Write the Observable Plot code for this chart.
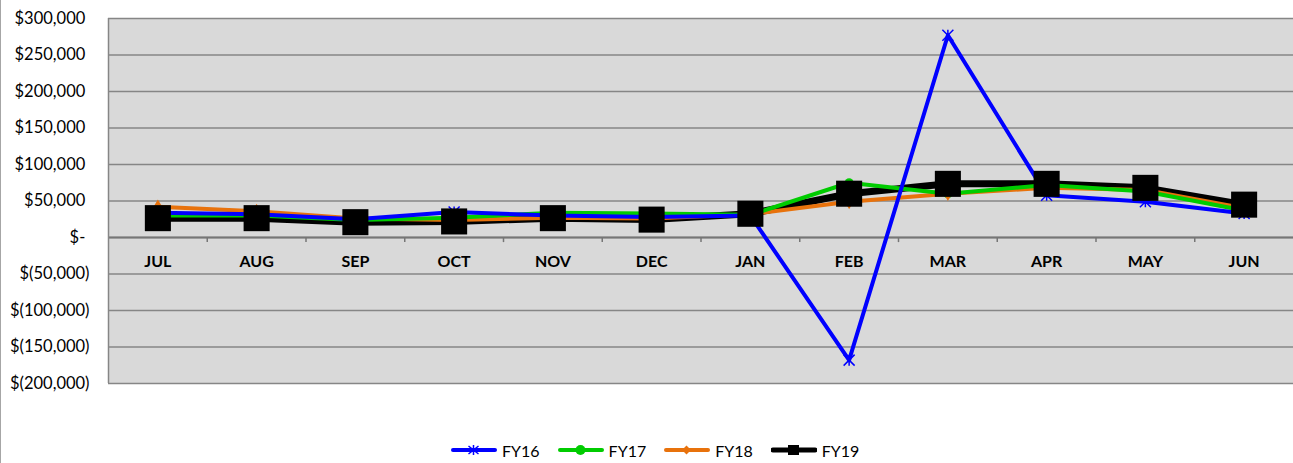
<!DOCTYPE html>
<html>
<head>
<meta charset="utf-8">
<script src="https://cdn.jsdelivr.net/npm/d3@7"></script>
<script src="https://cdn.jsdelivr.net/npm/@observablehq/plot@0.6"></script>
<style>
  html, body { margin: 0; padding: 0; background: #fff; }
  body { width: 1293px; height: 463px; overflow: hidden; position: relative; font-family: Lato, "Open Sans", sans-serif; }
  #border { position: absolute; left: 0; top: 0; width: 1px; height: 463px; background: #a6a6a6; }
  #chart { position: absolute; left: 0; top: 0; }
  #legend { position: absolute; left: 451px; top: 440px; height: 20px; display: flex; align-items: center; font-size: 16px; color: #000; }
  .item { display: flex; align-items: center; margin-right: 18px; }
  .item svg { margin-right: 5px; }
</style>
</head>
<body>
<div id="border"></div>
<div id="chart"></div>
<div id="legend"></div>
<script>
// ---- data ----
const months = ["JUL", "AUG", "SEP", "OCT", "NOV", "DEC", "JAN", "FEB", "MAR", "APR", "MAY", "JUN"];
const fy16 = [34000, 32000, 25000, 35000, 30000, 28000, 30000, -168000, 277000, 58000, 49000, 33000];
const fy17 = [30000, 30000, 24000, 27000, 34000, 33000, 31000, 75000, 60000, 72000, 63000, 37000];
const fy18 = [42000, 36000, 26000, 24000, 27000, 26000, 32000, 49000, 60000, 68000, 65000, 40000];
const fy19 = [26500, 26500, 21000, 22000, 26500, 24500, 32500, 60000, 73500, 73500, 68000, 45000];
const seriesNames = ["FY16", "FY17", "FY18", "FY19"];
const yTicks = [-200000, -150000, -100000, -50000, 0, 50000, 100000, 150000, 200000, 250000, 300000];

// ---- styles ----
const starSymbol = {
  draw(ctx, size) {
    const r = Math.sqrt(size / Math.PI);
    ctx.moveTo(-r, -r); ctx.lineTo(r, r);
    ctx.moveTo(r, -r); ctx.lineTo(-r, r);
    ctx.moveTo(0, -r); ctx.lineTo(0, r);
  }
};
const styles = {
  FY16: {color: "#0000ff", width: 4, symbol: starSymbol, r: 5.5, fill: "none", stroke: "#0000ff", sw: 1.5},
  FY17: {color: "#00cc00", width: 4, symbol: "circle", r: 4.5, fill: "#00cc00", stroke: "none", sw: 0},
  FY18: {color: "#e8720c", width: 4, symbol: "diamond", r: 4.5, fill: "#e8720c", stroke: "none", sw: 0},
  FY19: {color: "#000000", width: 7, symbol: "square", r: 14.7, fill: "#000000", stroke: "none", sw: 0}
};

const valuesBy = {FY16: fy16, FY17: fy17, FY18: fy18, FY19: fy19};
const rows = seriesNames.flatMap(s => months.map((m, i) => ({series: s, month: m, i, value: valuesBy[s][i]})));
const boundaries = months.slice(1).map((m, i) => i + 0.5);

const fmt = v => v === 0 ? "$-\u00a0" : v < 0 ? `$(${d3.format(",")(-v)})` : `$${d3.format(",")(v)}\u00a0`;

const lineOrder = ["FY19", "FY18", "FY17", "FY16"];
const dotOrder = ["FY16", "FY17", "FY18", "FY19"];

const chart = Plot.plot({
  width: 1293,
  height: 395,
  marginLeft: 108,
  marginRight: 0,
  marginTop: 18,
  marginBottom: 12,
  x: {domain: [-0.5, months.length - 0.5], axis: null},
  y: {domain: [-200000, 300000], axis: null},
  style: {fontFamily: "Lato, 'Open Sans', sans-serif", background: "transparent", color: "#000"},
  marks: [
    Plot.frame({fill: "#d9d9d9", stroke: null}),
    Plot.gridY(yTicks, {stroke: "#868686", strokeOpacity: 1, strokeWidth: 1.5}),
    Plot.ruleY([0], {stroke: "#767676", strokeWidth: 2}),
    Plot.ruleX([-0.5], {stroke: "#868686", strokeWidth: 1.5}),
    Plot.ruleX(boundaries, {y1: 0, y2: -7000, stroke: "#767676", strokeWidth: 1.5}),
    Plot.text(months, {x: (d, i) => i, y: 0, dy: 24, text: d => d, fontWeight: "bold", fontSize: 16, fill: "#000"}),
    Plot.axisY(yTicks, {tickSize: 0, tickPadding: 19, tickFormat: fmt, fontSize: 16.5, fill: "#000", label: null}),
    ...lineOrder.map(s => Plot.line(rows.filter(d => d.series === s), {
      x: "i", y: "value", stroke: styles[s].color, strokeWidth: styles[s].width, strokeLinejoin: "round", strokeLinecap: "round"
    })),
    ...dotOrder.map(s => Plot.dot(rows.filter(d => d.series === s), {
      x: "i", y: "value", symbol: styles[s].symbol, r: styles[s].r,
      fill: styles[s].fill, stroke: styles[s].stroke, strokeWidth: styles[s].sw
    }))
  ]
});
document.getElementById("chart").appendChild(chart);

// ---- legend ----
const legend = document.getElementById("legend");
const markerSvg = {
  FY16: `<path d="M17.5,1 L27.5,9 M27.5,1 L17.5,9 M22.5,0 L22.5,10" stroke="#0000ff" stroke-width="1.5" fill="none"/>`,
  FY17: `<circle cx="22.5" cy="5" r="5" fill="#00cc00"/>`,
  FY18: `<path d="M22.5,0.5 L27,5 L22.5,9.5 L18,5 Z" fill="#e8720c"/>`,
  FY19: `<rect x="17" y="0" width="11" height="10" fill="#000"/>`
};
for (const s of seriesNames) {
  const st = styles[s];
  const div = document.createElement("div");
  div.className = "item";
  div.innerHTML = `<svg width="46" height="10"><line x1="2" y1="5" x2="44" y2="5" stroke="${st.color}" stroke-width="${Math.min(st.width, 5)}" stroke-linecap="round"/>${markerSvg[s]}</svg><span>${s}</span>`;
  legend.appendChild(div);
}
</script>
</body>
</html>
